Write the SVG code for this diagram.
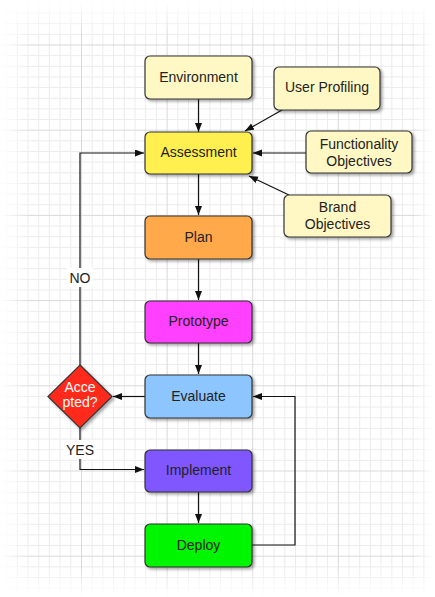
<svg xmlns="http://www.w3.org/2000/svg" width="435" height="597" viewBox="0 0 435 597">
<style>
.minor{stroke:#ececec;stroke-width:1;fill:none}
.major{stroke:#d9d9d9;stroke-width:1;fill:none}
.box{stroke:#333;stroke-width:1.2;filter:url(#sh)}
.t{font-family:"Liberation Sans",Arial,Helvetica,sans-serif;font-size:14px;fill:#222;text-anchor:middle}
.w{fill:#fff}
.c{stroke:#111;stroke-width:1.2;fill:none;marker-end:url(#ah)}
.lbl{fill:#fff}
</style>
<defs>
<filter id="sh" x="-20%" y="-20%" width="140%" height="150%">
<feDropShadow dx="2" dy="2" stdDeviation="1.5" flood-color="#000" flood-opacity="0.35"/>
</filter>
<marker id="ah" markerWidth="10" markerHeight="8" refX="9" refY="3.5" orient="auto" markerUnits="userSpaceOnUse">
<path d="M0,0 L9,3.5 L0,7 z" fill="#111"/>
</marker>
<linearGradient id="gx" x1="0" y1="0" x2="435" y2="0" gradientUnits="userSpaceOnUse">
<stop offset="0" stop-color="#fff" stop-opacity="0"/>
<stop offset="0.07" stop-color="#fff" stop-opacity="1"/>
<stop offset="0.95" stop-color="#fff" stop-opacity="1"/>
<stop offset="1" stop-color="#fff" stop-opacity="0"/>
</linearGradient>
<linearGradient id="gy" x1="0" y1="0" x2="0" y2="597" gradientUnits="userSpaceOnUse">
<stop offset="0" stop-color="#fff" stop-opacity="0"/>
<stop offset="0.06" stop-color="#fff" stop-opacity="1"/>
<stop offset="0.95" stop-color="#fff" stop-opacity="1"/>
<stop offset="1" stop-color="#fff" stop-opacity="0"/>
</linearGradient>
<mask id="mx" maskUnits="userSpaceOnUse" x="0" y="0" width="435" height="597"><rect width="435" height="597" fill="url(#gx)"/></mask>
<mask id="my" maskUnits="userSpaceOnUse" x="0" y="0" width="435" height="597"><rect width="435" height="597" fill="url(#gy)"/></mask>
</defs>
<rect width="435" height="597" fill="#fff"/>
<g id="grid" mask="url(#my)">
<g mask="url(#mx)">
<path class="minor" d="M6.6 0V597M17.3 0V597M28 0V597M38.7 0V597M49.4 0V597M60.1 0V597M70.8 0V597M92.2 0V597M102.9 0V597M113.6 0V597M124.3 0V597M135 0V597M145.7 0V597M156.4 0V597M177.8 0V597M188.5 0V597M199.2 0V597M209.9 0V597M220.6 0V597M231.3 0V597M242 0V597M263.4 0V597M274.1 0V597M284.8 0V597M295.5 0V597M306.2 0V597M316.9 0V597M327.6 0V597M349 0V597M359.7 0V597M370.4 0V597M381.1 0V597M391.8 0V597M402.5 0V597M413.2 0V597"/>
<path class="minor" d="M0 2.4H435M0 13.05H435M0 23.7H435M0 34.35H435M0 55.65H435M0 66.3H435M0 76.95H435M0 87.6H435M0 98.25H435M0 108.9H435M0 119.55H435M0 140.85H435M0 151.5H435M0 162.15H435M0 172.8H435M0 183.45H435M0 194.1H435M0 204.75H435M0 226.05H435M0 236.7H435M0 247.35H435M0 258H435M0 268.65H435M0 279.3H435M0 289.95H435M0 311.25H435M0 321.9H435M0 332.55H435M0 343.2H435M0 353.85H435M0 364.5H435M0 375.15H435M0 396.45H435M0 407.1H435M0 417.75H435M0 428.4H435M0 439.05H435M0 449.7H435M0 460.35H435M0 481.65H435M0 492.3H435M0 502.95H435M0 513.6H435M0 524.25H435M0 534.9H435M0 545.55H435M0 566.85H435M0 577.5H435M0 588.15H435"/>
<path class="major" d="M81.5 0V597M167.1 0V597M252.7 0V597M338.3 0V597M423.9 0V597M0 45H435M0 130.2H435M0 215.4H435M0 300.6H435M0 385.8H435M0 471H435M0 556.2H435"/>
</g>
</g>
<g id="connectors">
<path class="c" d="M198.5 99V132"/>
<path class="c" d="M282 110L245 131"/>
<path class="c" d="M306 153H253"/>
<path class="c" d="M289 195L249 176"/>
<path class="c" d="M198.5 174V215"/>
<path class="c" d="M198.5 259V300"/>
<path class="c" d="M198.5 343V374"/>
<path class="c" d="M145 396.5H113"/>
<path class="c" d="M80 365V153H144"/>
<path class="c" d="M80 428V469.5H144"/>
<path class="c" d="M198.5 492V523"/>
<path class="c" d="M252 545H295V396.5H253"/>
<rect class="lbl" x="67" y="268" width="26" height="19"/>
<text class="t" x="80" y="283">NO</text>
<rect class="lbl" x="63" y="440" width="34" height="19"/>
<text class="t" x="80" y="455">YES</text>
</g>
<g id="environment"><rect class="box" x="145" y="56" width="107" height="43" rx="5" fill="#fff8c4"/><text class="t" x="198.5" y="81.5">Environment</text></g>
<g id="user-profiling"><rect class="box" x="274" y="67" width="106" height="43" rx="5" fill="#fff8c4"/><text class="t" x="327" y="92">User Profiling</text></g>
<g id="assessment"><rect class="box" x="145" y="132" width="107" height="42" rx="5" fill="#ffef50"/><text class="t" x="198.5" y="157">Assessment</text></g>
<g id="functionality"><rect class="box" x="306" y="131" width="106" height="42" rx="5" fill="#fff8c4"/><text class="t" x="359" y="149">Functionality</text><text class="t" x="359" y="166">Objectives</text></g>
<g id="brand"><rect class="box" x="284" y="195" width="107" height="42" rx="5" fill="#fff8c4"/><text class="t" x="337.5" y="212">Brand</text><text class="t" x="337.5" y="229">Objectives</text></g>
<g id="plan"><rect class="box" x="145" y="216" width="107" height="43" rx="5" fill="#ffa94b"/><text class="t" x="198.5" y="241.5">Plan</text></g>
<g id="prototype"><rect class="box" x="145" y="301" width="107" height="42" rx="5" fill="#ff40ff"/><text class="t" x="198.5" y="326">Prototype</text></g>
<g id="evaluate"><rect class="box" x="145" y="375" width="107" height="43" rx="5" fill="#8dc5ff"/><text class="t" x="198.5" y="400.5">Evaluate</text></g>
<g id="accepted"><path class="box" d="M80 365L112 396.5L80 428L48 396.5Z" fill="#ff2b1d"/><text class="t w" x="80" y="392">Acce</text><text class="t w" x="80" y="407">pted?</text></g>
<g id="implement"><rect class="box" x="145" y="450" width="107" height="42" rx="5" fill="#7f56ff"/><text class="t" x="198.5" y="475">Implement</text></g>
<g id="deploy"><rect class="box" x="145" y="524" width="107" height="43" rx="5" fill="#00f500"/><text class="t" x="198.5" y="549.5">Deploy</text></g>
</svg>
